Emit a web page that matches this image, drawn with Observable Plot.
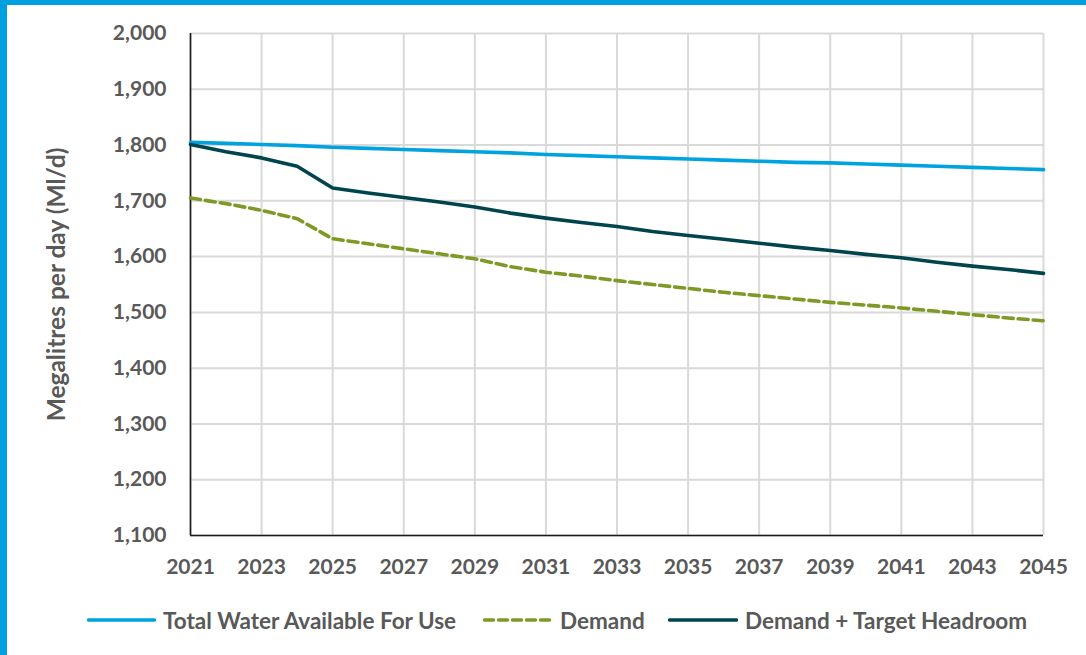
<!DOCTYPE html>
<html>
<head>
<meta charset="utf-8">
<script src="https://cdn.jsdelivr.net/npm/d3@7"></script>
<script src="https://cdn.jsdelivr.net/npm/@observablehq/plot@0.6"></script>
<style>
  html, body { margin: 0; padding: 0; background: #fff; }
  #frame {
    position: relative; width: 1086px; height: 655px; overflow: hidden;
    background: #fff; font-family: Lato, "Open Sans", sans-serif;
  }
  #frame .edge { position: absolute; background: #00a0e0; }
  #chart { position: absolute; left: 0; top: 0; }
  #legend {
    position: absolute; left: 0; top: 606px; width: 1086px; height: 28px;
    font-weight: 700; font-size: 22.5px; color: #595959;
  }
  #legend .item { position: absolute; top: 0; display: flex; align-items: center; height: 28px; white-space: nowrap; }
  #legend svg { display: block; margin-right: 7px; }
</style>
</head>
<body>
<div id="frame">
  <div id="chart"></div>
  <div id="legend"></div>
  <div class="edge" style="left:0;top:0;width:7px;height:655px"></div>
  <div class="edge" style="left:0;top:0;width:1086px;height:5px"></div>
</div>
<script>
// Supply–demand balance, megalitres per day, 2021–2045
const years = d3.range(2021, 2046);

const totalWaterAvailable = [1805, 1803, 1801, 1799, 1796, 1794, 1792, 1790, 1788, 1786,
  1783, 1781, 1779, 1777, 1775, 1773, 1771, 1769, 1768, 1766, 1764, 1762, 1760, 1758, 1756];

const demand = [1705, 1695, 1683, 1668, 1632, 1623, 1614, 1605, 1596, 1582,
  1572, 1565, 1557, 1550, 1543, 1536, 1530, 1524, 1518, 1513, 1508, 1502, 1496, 1490, 1485];

const demandPlusHeadroom = [1801, 1788, 1777, 1762, 1723, 1714, 1706, 1698, 1689, 1678,
  1669, 1661, 1654, 1645, 1638, 1631, 1624, 1617, 1611, 1604, 1598, 1590, 1583, 1577, 1570];

const seriesNames = ["Total Water Available For Use", "Demand", "Demand + Target Headroom"];
const seriesColors = ["#00a3e0", "#7e9a26", "#00444e"];

const xTicks = d3.range(2021, 2046, 2);
const yTicks = d3.range(1100, 2001, 100);
const yTitle = "Megalitres per day (Ml/d)";

const rows = (values, name) => years.map((year, i) => ({year, value: values[i], series: name}));
const totalRows = rows(totalWaterAvailable, seriesNames[0]);
const demandRows = rows(demand, seriesNames[1]);
const headroomRows = rows(demandPlusHeadroom, seriesNames[2]);

const textColor = "#595959";
const gridColor = "#d9d9d9";
const yearFormat = d3.format("d");
const thousands = d3.format(",");

const chart = Plot.plot({
  width: 1086,
  height: 600,
  marginLeft: 190,
  marginRight: 43,
  marginTop: 33,
  marginBottom: 65,
  style: {fontFamily: "Lato, 'Open Sans', sans-serif", fontWeight: 700, fontSize: "21px", color: textColor, background: "transparent"},
  x: {domain: [2021, 2045]},
  y: {domain: [1100, 2000]},
  marks: [
    Plot.gridX(xTicks, {stroke: gridColor, strokeOpacity: 1, strokeWidth: 2}),
    Plot.gridY(yTicks, {stroke: gridColor, strokeOpacity: 1, strokeWidth: 2}),
    Plot.axisX(xTicks, {tickSize: 0, tickPadding: 24, tickFormat: yearFormat, fill: textColor, fontSize: 21, fontWeight: 700, label: null}),
    Plot.axisY(yTicks, {tickSize: 0, tickPadding: 24, tickFormat: thousands, fill: textColor, fontSize: 21, fontWeight: 700, label: null}),
    Plot.text([yTitle], {frameAnchor: "left", textAnchor: "middle", dx: -133, rotate: -90, fill: textColor, fontSize: 24.5, fontWeight: 700}),
    Plot.ruleX([2021], {stroke: "#1a1a1a", strokeWidth: 1.6}),
    Plot.ruleY([1100], {stroke: "#1a1a1a", strokeWidth: 1.6}),
    Plot.line(totalRows, {x: "year", y: "value", stroke: seriesColors[0], strokeWidth: 3.6, strokeLinejoin: "round"}),
    Plot.line(headroomRows, {x: "year", y: "value", stroke: seriesColors[2], strokeWidth: 3.6, strokeLinejoin: "round"}),
    Plot.line(demandRows, {x: "year", y: "value", stroke: seriesColors[1], strokeWidth: 3.6, strokeDasharray: "10,5", strokeLinejoin: "round"})
  ]
});
document.getElementById("chart").appendChild(chart);

// Legend below the plot: line swatch + label for each series
const legendLayout = [
  {left: 87, swatch: 69, dash: null},
  {left: 483, swatch: 70, dash: "9,5"},
  {left: 668, swatch: 70, dash: null}
];
const legend = d3.select("#legend");
seriesNames.forEach((name, i) => {
  const item = legend.append("div").attr("class", "item").style("left", legendLayout[i].left + "px");
  const sw = item.append("svg").attr("width", legendLayout[i].swatch).attr("height", 8);
  sw.append("line")
    .attr("x1", 1.5).attr("x2", legendLayout[i].swatch - 1.5).attr("y1", 4).attr("y2", 4)
    .attr("stroke", seriesColors[i]).attr("stroke-width", 3.5).attr("stroke-linecap", "round")
    .attr("stroke-dasharray", legendLayout[i].dash);
  item.append("span").text(name);
});
</script>
</body>
</html>
